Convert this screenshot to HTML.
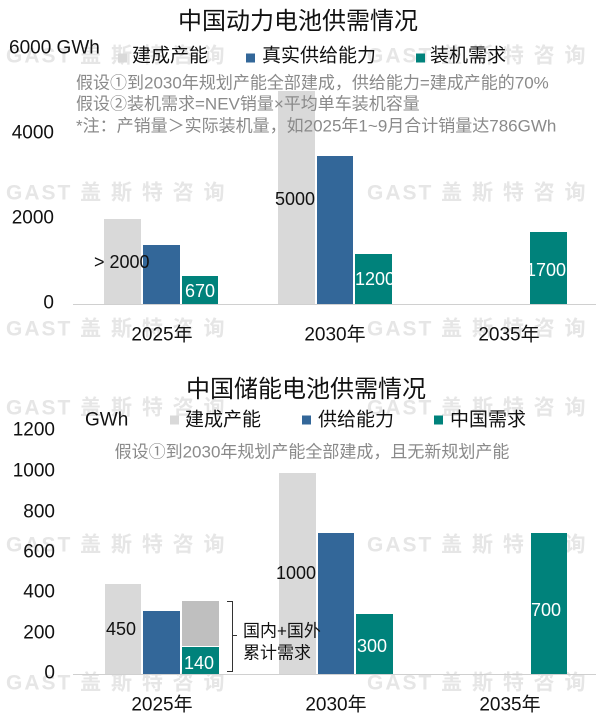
<!DOCTYPE html>
<html><head><meta charset="utf-8"><style>
body{margin:0;background:#fff;}
#c{position:relative;width:600px;height:724px;overflow:hidden;background:#fff;font-family:"Liberation Sans","Noto Sans CJK SC",sans-serif;color:#111;}
.t{position:absolute;white-space:nowrap;transform:translateY(-50%);line-height:1;}
.cx{transform:translate(-50%,-50%);}
.r{transform:translate(-100%,-50%);text-align:right;}
.b{position:absolute;}
.wm{position:absolute;white-space:nowrap;color:#e6e6e6;font-weight:bold;font-size:21px;letter-spacing:2px;transform:translateY(-50%);line-height:1;}
.g{background:#d9d9d9}.bl{background:#336799}.tl{background:#00827b}
.sq{position:absolute;width:9px;height:9px;transform:translateY(-50%);}
.w{color:#fff}
.n{font-size:17px;color:#8a8a8a}
</style></head><body><div id="c">
<div class="wm" style="left:6px;top:56px">GAST 盖 斯 特 咨 询</div>
<div class="wm" style="left:367px;top:56px">GAST 盖 斯 特 咨 询</div>
<div class="wm" style="left:6px;top:193px">GAST 盖 斯 特 咨 询</div>
<div class="wm" style="left:367px;top:193px">GAST 盖 斯 特 咨 询</div>
<div class="wm" style="left:6px;top:329px">GAST 盖 斯 特 咨 询</div>
<div class="wm" style="left:367px;top:329px">GAST 盖 斯 特 咨 询</div>
<div class="wm" style="left:6px;top:408px">GAST 盖 斯 特 咨 询</div>
<div class="wm" style="left:367px;top:408px">GAST 盖 斯 特 咨 询</div>
<div class="wm" style="left:6px;top:545px">GAST 盖 斯 特 咨 询</div>
<div class="wm" style="left:367px;top:545px">GAST 盖 斯 特 咨 询</div>
<div class="wm" style="left:6px;top:683px">GAST 盖 斯 特 咨 询</div>
<div class="wm" style="left:367px;top:683px">GAST 盖 斯 特 咨 询</div>

<div class="b g" style="left:104px;top:219px;width:37px;height:85px"></div>
<div class="b bl" style="left:143px;top:245px;width:37px;height:59px"></div>
<div class="b tl" style="left:182px;top:276px;width:36px;height:28px"></div>
<div class="b g" style="left:278px;top:91px;width:37px;height:213px"></div>
<div class="b bl" style="left:317px;top:156px;width:36px;height:148px"></div>
<div class="b tl" style="left:355px;top:254px;width:37px;height:50px"></div>
<div class="b tl" style="left:530px;top:232px;width:37px;height:72px"></div>
<div class="b" style="left:73px;top:304px;width:523px;height:1px;background:#d0d0d0"></div>

<div class="t cx" style="left:298px;top:22px;font-size:24px">中国动力电池供需情况</div>
<div class="t" style="left:9px;top:48px;font-size:19px">6000 GWh</div>
<div class="sq g" style="left:118px;top:58px"></div>
<div class="t" style="left:132px;top:56px;font-size:19px">建成产能</div>
<div class="sq bl" style="left:246px;top:58px"></div>
<div class="t" style="left:262px;top:56px;font-size:19px">真实供给能力</div>
<div class="sq tl" style="left:416px;top:58px"></div>
<div class="t" style="left:430px;top:56px;font-size:19px">装机需求</div>
<div class="t n" style="left:76px;top:83px">假设①到2030年规划产能全部建成，供给能力=建成产能的70%</div>
<div class="t n" style="left:76px;top:104px">假设②装机需求=NEV销量×平均单车装机容量</div>
<div class="t n" style="left:76px;top:126px">*注：产销量＞实际装机量，如2025年1~9月合计销量达786GWh</div>

<div class="t r" style="left:54px;top:133px;font-size:19px">4000</div>
<div class="t r" style="left:54px;top:218px;font-size:19px">2000</div>
<div class="t r" style="left:54px;top:303px;font-size:19px">0</div>

<div class="t" style="left:94px;top:262px;font-size:18px">&gt; 2000</div>
<div class="t w" style="left:185px;top:291px;font-size:18px">670</div>
<div class="t" style="left:275px;top:199px;font-size:18px">5000</div>
<div class="b" style="left:355px;top:268px;width:37px;height:24px;overflow:hidden"><div class="t w" style="left:0;top:11px;font-size:18px">1200</div></div>
<div class="b" style="left:530px;top:258px;width:37px;height:24px;overflow:hidden"><div class="t w" style="left:-4px;top:12px;font-size:18px">1700</div></div>

<div class="t cx" style="left:162px;top:335px;font-size:19px">2025年</div>
<div class="t cx" style="left:335px;top:335px;font-size:19px">2030年</div>
<div class="t cx" style="left:509px;top:335px;font-size:19px">2035年</div>

<div class="b g" style="left:105px;top:584px;width:36px;height:90px"></div>
<div class="b bl" style="left:143px;top:611px;width:37px;height:63px"></div>
<div class="b" style="left:182px;top:601px;width:37px;height:45px;background:#bfbfbf"></div>
<div class="b tl" style="left:182px;top:646px;width:37px;height:28px;border-top:1px solid #fff"></div>
<div class="b g" style="left:279px;top:473px;width:37px;height:201px"></div>
<div class="b bl" style="left:318px;top:533px;width:36px;height:141px"></div>
<div class="b tl" style="left:356px;top:614px;width:37px;height:60px"></div>
<div class="b tl" style="left:531px;top:533px;width:36px;height:141px"></div>
<div class="b" style="left:73px;top:674px;width:523px;height:1px;background:#d0d0d0"></div>
<div class="b" style="left:227px;top:601px;width:5px;height:69px;border:1px solid #333;border-left:none"></div>
<div class="b" style="left:233px;top:635px;width:4px;height:1px;background:#333"></div>

<div class="t cx" style="left:306px;top:390px;font-size:24px">中国储能电池供需情况</div>
<div class="t" style="left:85px;top:420px;font-size:19px">GWh</div>
<div class="sq g" style="left:170px;top:420px"></div>
<div class="t" style="left:185px;top:420px;font-size:19px">建成产能</div>
<div class="sq bl" style="left:302px;top:420px"></div>
<div class="t" style="left:318px;top:420px;font-size:19px">供给能力</div>
<div class="sq tl" style="left:434px;top:420px"></div>
<div class="t" style="left:450px;top:420px;font-size:19px">中国需求</div>
<div class="t cx n" style="left:312px;top:452px">假设①到2030年规划产能全部建成，且无新规划产能</div>

<div class="t r" style="left:55px;top:430px;font-size:19px">1200</div>
<div class="t r" style="left:55px;top:471px;font-size:19px">1000</div>
<div class="t r" style="left:55px;top:512px;font-size:19px">800</div>
<div class="t r" style="left:55px;top:552px;font-size:19px">600</div>
<div class="t r" style="left:55px;top:592px;font-size:19px">400</div>
<div class="t r" style="left:55px;top:633px;font-size:19px">200</div>
<div class="t r" style="left:55px;top:673px;font-size:19px">0</div>

<div class="t" style="left:106px;top:629px;font-size:18px">450</div>
<div class="t w" style="left:184px;top:663px;font-size:18px">140</div>
<div class="t" style="left:276px;top:573px;font-size:18px">1000</div>
<div class="t w" style="left:357px;top:646px;font-size:18px">300</div>
<div class="t w" style="left:531px;top:610px;font-size:18px">700</div>
<div class="t" style="left:243px;top:631px;font-size:17px">国内+国外</div>
<div class="t" style="left:243px;top:653px;font-size:17px">累计需求</div>

<div class="t cx" style="left:162px;top:705px;font-size:19px">2025年</div>
<div class="t cx" style="left:336px;top:705px;font-size:19px">2030年</div>
<div class="t cx" style="left:510px;top:705px;font-size:19px">2035年</div>
</div></body></html>
